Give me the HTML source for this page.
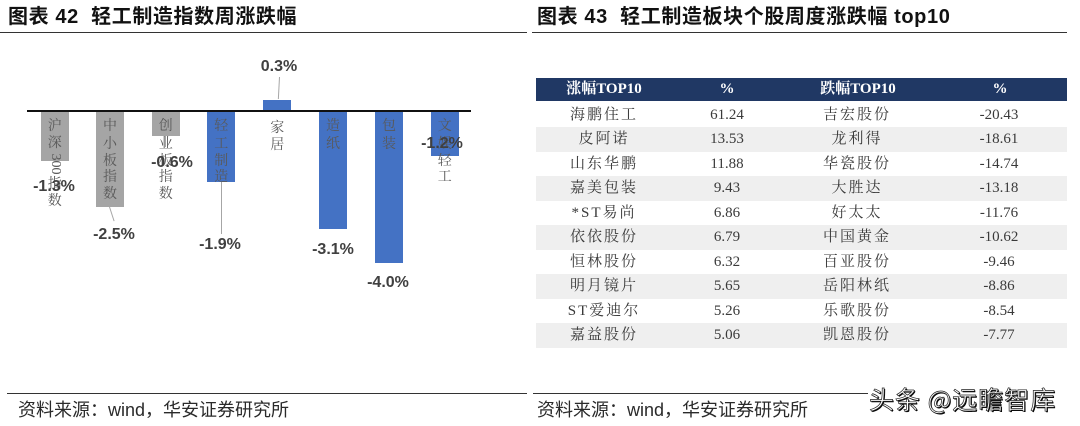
<!DOCTYPE html>
<html>
<head>
<meta charset="utf-8">
<style>
  html,body{margin:0;padding:0;background:#fff;}
  #c{position:relative;width:1080px;height:426px;overflow:hidden;background:#fff;font-family:"Liberation Sans","Noto Sans CJK SC",sans-serif;}
  .a{position:absolute;}
  .title{position:absolute;font-weight:bold;font-size:20px;color:#111;white-space:nowrap;line-height:24px;letter-spacing:0.6px;}
  .hl{position:absolute;height:1.5px;background:#333;}
  .bar{position:absolute;width:28px;}
  .g{background:#a5a5a5;}
  .b{background:#4472c4;}
  .cat{position:absolute;width:20px;text-align:center;font-family:"Liberation Serif","Noto Serif CJK SC",serif;font-size:14px;line-height:16px;color:#595959;}
  .val{position:absolute;width:80px;text-align:center;font-family:"Liberation Sans",sans-serif;font-weight:bold;font-size:16px;line-height:18px;color:#404040;}
  .ld{position:absolute;width:1px;background:#a6a6a6;transform-origin:top left;}
  .row{position:absolute;left:536px;width:531px;height:24.5px;}
  .cell{position:absolute;width:160px;text-align:center;top:0;line-height:24.5px;font-family:"Liberation Serif","Noto Serif CJK SC",serif;font-size:15px;color:#3a3a3a;white-space:nowrap;}
  .cn{letter-spacing:2px;}
  .hd{position:absolute;left:536px;top:78px;width:531px;height:23px;background:#203864;}
  .hc{position:absolute;width:160px;text-align:center;top:0;line-height:23px;font-family:"Liberation Serif","Noto Serif CJK SC",serif;font-size:15px;font-weight:bold;color:#fff;white-space:nowrap;}
  .foot{position:absolute;font-family:"Liberation Sans","Noto Sans CJK SC",sans-serif;font-size:18px;color:#2a2a2a;white-space:nowrap;line-height:20px;}
  .wm{position:absolute;left:869px;top:384px;font-family:"Noto Sans CJK SC","Liberation Sans",sans-serif;font-size:25px;line-height:30px;color:#fff;letter-spacing:1px;white-space:nowrap;
      -webkit-text-stroke:0.7px #222;text-shadow:1px 1px 0 #000;}
</style>
</head>
<body>
<div id="c">
  <!-- Titles -->
  <div class="title" style="left:8px;top:5px;">图表 42&nbsp; 轻工制造指数周涨跌幅</div>
  <div class="hl" style="left:0;top:31.5px;width:527px;"></div>
  <div class="title" style="left:537px;top:5px;">图表 43&nbsp; 轻工制造板块个股周度涨跌幅 top10</div>
  <div class="hl" style="left:532px;top:31.5px;width:535px;"></div>

  <!-- Bar chart -->
  <div class="bar g" style="left:40.7px;top:111px;height:50px;"></div>
  <div class="bar g" style="left:96px;top:111px;height:95.7px;"></div>
  <div class="bar g" style="left:151.7px;top:111px;height:24.7px;"></div>
  <div class="bar b" style="left:207.3px;top:111px;height:71.3px;"></div>
  <div class="bar b" style="left:263.3px;top:100px;height:11px;"></div>
  <div class="bar b" style="left:319px;top:111px;height:118px;"></div>
  <div class="bar b" style="left:375px;top:111px;height:151.7px;"></div>
  <div class="bar b" style="left:430.7px;top:111px;height:45px;"></div>
  <div class="a" style="left:27px;top:110px;width:444px;height:2px;background:#111;"></div>

  <!-- category labels -->
  <div class="cat" style="left:44.7px;top:119px;">沪</div>
  <div class="cat" style="left:44.7px;top:136px;">深</div>
  <div class="a" style="left:34.7px;top:156px;width:40px;text-align:center;font-family:'Liberation Serif',serif;font-size:14px;line-height:16px;color:#595959;transform:rotate(90deg);">300</div>
  <div class="cat" style="left:44.7px;top:177px;">指</div>
  <div class="cat" style="left:44.7px;top:194px;">数</div>

  <div class="cat" style="left:100px;top:119px;">中</div>
  <div class="cat" style="left:100px;top:137px;">小</div>
  <div class="cat" style="left:100px;top:154px;">板</div>
  <div class="cat" style="left:100px;top:170px;">指</div>
  <div class="cat" style="left:100px;top:187px;">数</div>

  <div class="cat" style="left:155.7px;top:119px;">创</div>
  <div class="cat" style="left:155.7px;top:137px;">业</div>
  <div class="cat" style="left:155.7px;top:154px;">板</div>
  <div class="cat" style="left:155.7px;top:170px;">指</div>
  <div class="cat" style="left:155.7px;top:187px;">数</div>

  <div class="cat" style="left:211.3px;top:119px;">轻</div>
  <div class="cat" style="left:211.3px;top:137px;">工</div>
  <div class="cat" style="left:211.3px;top:154px;">制</div>
  <div class="cat" style="left:211.3px;top:170px;">造</div>

  <div class="cat" style="left:267.3px;top:121px;">家</div>
  <div class="cat" style="left:267.3px;top:138px;">居</div>

  <div class="cat" style="left:323px;top:119px;">造</div>
  <div class="cat" style="left:323px;top:137px;">纸</div>

  <div class="cat" style="left:379px;top:119px;">包</div>
  <div class="cat" style="left:379px;top:137px;">装</div>

  <div class="cat" style="left:434.7px;top:119px;">文</div>
  <div class="cat" style="left:434.7px;top:137px;">娱</div>
  <div class="cat" style="left:434.7px;top:154px;">轻</div>
  <div class="cat" style="left:434.7px;top:170px;">工</div>

  <!-- leader lines -->
  <div class="ld" style="left:109px;top:207px;height:15px;transform:rotate(-18deg);"></div>
  <div class="ld" style="left:220.5px;top:182px;height:52px;"></div>
  <div class="ld" style="left:278.5px;top:77px;height:22px;transform:rotate(3deg);"></div>
  <div class="ld" style="left:165px;top:136px;height:11px;"></div>

  <!-- value labels -->
  <div class="val" style="left:14px;top:178px;">-1.3%</div>
  <div class="val" style="left:74px;top:226px;">-2.5%</div>
  <div class="val" style="left:132px;top:154px;">-0.6%</div>
  <div class="val" style="left:180px;top:236px;">-1.9%</div>
  <div class="val" style="left:239px;top:58px;">0.3%</div>
  <div class="val" style="left:293px;top:241px;">-3.1%</div>
  <div class="val" style="left:348px;top:274px;">-4.0%</div>
  <div class="val" style="left:402px;top:135px;">-1.2%</div>

  <!-- Table -->
  <div class="hd">
    <div class="hc" style="left:-12px;">涨幅TOP10</div>
    <div class="hc" style="left:111px;">%</div>
    <div class="hc" style="left:242px;">跌幅TOP10</div>
    <div class="hc" style="left:384px;">%</div>
  </div>

  <div class="row" style="top:102.75px;">
    <div class="cell cn" style="left:-12px;">海鹏住工</div><div class="cell" style="left:111px;">61.24</div><div class="cell cn" style="left:241px;">吉宏股份</div><div class="cell" style="left:383px;">-20.43</div>
  </div>
  <div class="row" style="top:127.25px;background:#efefef;">
    <div class="cell cn" style="left:-12px;">皮阿诺</div><div class="cell" style="left:111px;">13.53</div><div class="cell cn" style="left:241px;">龙利得</div><div class="cell" style="left:383px;">-18.61</div>
  </div>
  <div class="row" style="top:151.75px;">
    <div class="cell cn" style="left:-12px;">山东华鹏</div><div class="cell" style="left:111px;">11.88</div><div class="cell cn" style="left:241px;">华瓷股份</div><div class="cell" style="left:383px;">-14.74</div>
  </div>
  <div class="row" style="top:176.25px;background:#efefef;">
    <div class="cell cn" style="left:-12px;">嘉美包装</div><div class="cell" style="left:111px;">9.43</div><div class="cell cn" style="left:241px;">大胜达</div><div class="cell" style="left:383px;">-13.18</div>
  </div>
  <div class="row" style="top:200.75px;">
    <div class="cell cn" style="left:-12px;">*ST易尚</div><div class="cell" style="left:111px;">6.86</div><div class="cell cn" style="left:241px;">好太太</div><div class="cell" style="left:383px;">-11.76</div>
  </div>
  <div class="row" style="top:225.25px;background:#efefef;">
    <div class="cell cn" style="left:-12px;">依依股份</div><div class="cell" style="left:111px;">6.79</div><div class="cell cn" style="left:241px;">中国黄金</div><div class="cell" style="left:383px;">-10.62</div>
  </div>
  <div class="row" style="top:249.75px;">
    <div class="cell cn" style="left:-12px;">恒林股份</div><div class="cell" style="left:111px;">6.32</div><div class="cell cn" style="left:241px;">百亚股份</div><div class="cell" style="left:383px;">-9.46</div>
  </div>
  <div class="row" style="top:274.25px;background:#efefef;">
    <div class="cell cn" style="left:-12px;">明月镜片</div><div class="cell" style="left:111px;">5.65</div><div class="cell cn" style="left:241px;">岳阳林纸</div><div class="cell" style="left:383px;">-8.86</div>
  </div>
  <div class="row" style="top:298.75px;">
    <div class="cell cn" style="left:-12px;">ST爱迪尔</div><div class="cell" style="left:111px;">5.26</div><div class="cell cn" style="left:241px;">乐歌股份</div><div class="cell" style="left:383px;">-8.54</div>
  </div>
  <div class="row" style="top:323.25px;background:#efefef;">
    <div class="cell cn" style="left:-12px;">嘉益股份</div><div class="cell" style="left:111px;">5.06</div><div class="cell cn" style="left:241px;">凯恩股份</div><div class="cell" style="left:383px;">-7.77</div>
  </div>

  <!-- Footer -->
  <div class="hl" style="left:7px;top:392.5px;width:520px;"></div>
  <div class="hl" style="left:533px;top:392.5px;width:335px;"></div>
  <div class="foot" style="left:18px;top:400px;">资料来源：wind，华安证券研究所</div>
  <div class="foot" style="left:537px;top:400px;">资料来源：wind，华安证券研究所</div>
  <div class="wm">头条 @远瞻智库</div>
</div>
</body>
</html>
